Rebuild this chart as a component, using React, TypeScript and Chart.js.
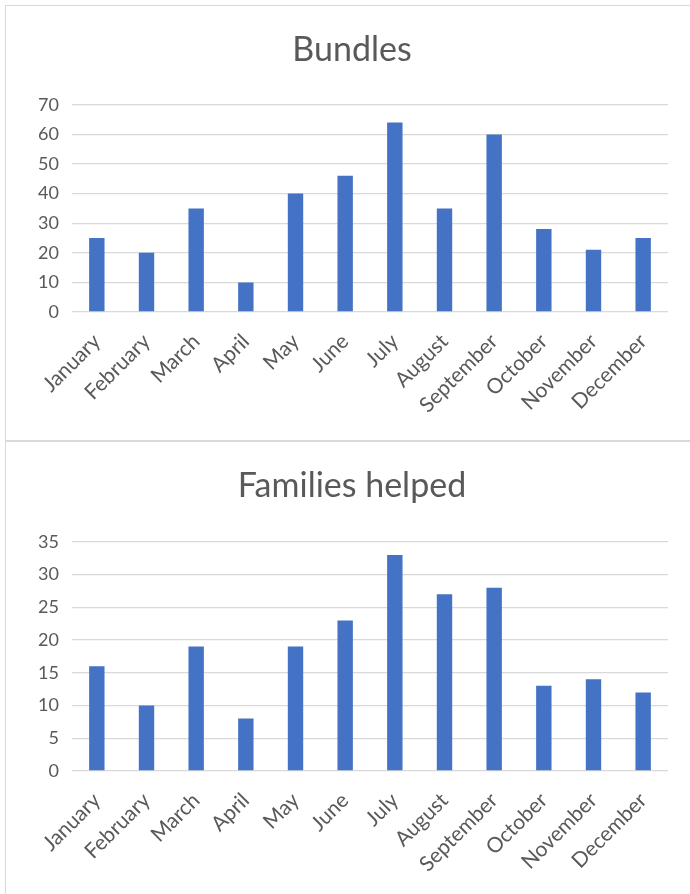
import React, { useEffect, useRef } from "react";
import { Chart, registerables } from "chart.js";

Chart.register(...registerables);

const months = [
  "January", "February", "March", "April", "May", "June",
  "July", "August", "September", "October", "November", "December",
];
const bundles = [25, 20, 35, 10, 40, 46, 64, 35, 60, 28, 21, 25];
const families = [16, 10, 19, 8, 19, 23, 33, 27, 28, 13, 14, 12];
const bundlesTitle = "Bundles";
const familiesTitle = "Families helped";

const FONT = "Lato, 'Open Sans', sans-serif";
const GRAY = "#595959";
const BAR = "#4472C4";
const GRID = "#d9d9d9";

type Cfg = {
  title: string;
  data: number[];
  max: number;
  step: number;
  height: number;
  titleTop: number;
  titleBottomPad: number;
  xHeight: number;
};

function BarChart({ cfg }: { cfg: Cfg }) {
  const ref = useRef<HTMLCanvasElement | null>(null);
  useEffect(() => {
    if (!ref.current) return;
    const chart = new Chart(ref.current, {
      type: "bar",
      data: {
        labels: months,
        datasets: [
          {
            data: cfg.data,
            backgroundColor: BAR,
            borderWidth: 0,
            barPercentage: 1,
            categoryPercentage: 0.31,
          },
        ],
      },
      options: {
        animation: false,
        responsive: false,
        devicePixelRatio: 1,
        layout: { padding: { top: cfg.titleTop, left: 36, right: 22, bottom: 0 } },
        plugins: {
          legend: { display: false },
          tooltip: { enabled: false },
          title: {
            display: true,
            text: cfg.title,
            color: GRAY,
            font: { family: FONT, size: 34, weight: "normal", lineHeight: 1.2 },
            padding: { top: 0, bottom: cfg.titleBottomPad },
          },
        },
        scales: {
          x: {
            grid: { display: false, drawTicks: false },
            border: { display: false },
            ticks: {
              color: GRAY,
              font: { family: FONT, size: 21 },
              maxRotation: 45,
              minRotation: 45,
              autoSkip: false,
              padding: 17,
            },
            afterFit: (s: any) => {
              s.height = cfg.xHeight;
            },
          },
          y: {
            min: 0,
            max: cfg.max,
            grid: { color: GRID, lineWidth: 1.3, drawTicks: false },
            border: { display: false },
            ticks: {
              stepSize: cfg.step,
              color: GRAY,
              font: { family: FONT, size: 18 },
              padding: 13,
            },
            afterFit: (s: any) => {
              s.width = 36;
            },
          },
        },
      },
    });
    return () => chart.destroy();
  }, [cfg]);
  return (
    <canvas
      ref={ref}
      width={690}
      height={cfg.height}
      style={{ width: 690, height: cfg.height, display: "block" }}
    />
  );
}

const cfg1: Cfg = {
  title: bundlesTitle,
  data: bundles,
  max: 70,
  step: 10,
  height: 435,
  titleTop: 30,
  titleBottomPad: 34,
  xHeight: 123,
};
const cfg2: Cfg = {
  title: familiesTitle,
  data: families,
  max: 35,
  step: 5,
  height: 453,
  titleTop: 25,
  titleBottomPad: 35,
  xHeight: 123,
};

export default function App() {
  return (
    <div
      style={{
        position: "absolute",
        left: 0,
        top: 0,
        width: 690,
        height: 894,
        overflow: "hidden",
        background: "#fff",
      }}
    >
      <div
        style={{
          position: "absolute",
          left: 5,
          top: 5,
          width: 720,
          height: 434,
          border: "1.5px solid #d9d9d9",
        }}
      />
      <div
        style={{
          position: "absolute",
          left: 5,
          top: 441,
          width: 720,
          height: 500,
          border: "1.5px solid #d9d9d9",
        }}
      />
      <div style={{ position: "absolute", left: 0, top: 0 }}>
        <BarChart cfg={cfg1} />
      </div>
      <div style={{ position: "absolute", left: 0, top: 441 }}>
        <BarChart cfg={cfg2} />
      </div>
    </div>
  );
}
